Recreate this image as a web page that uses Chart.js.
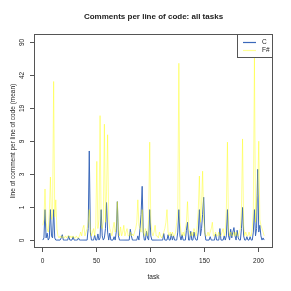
<!DOCTYPE html>
<html>
<head>
<meta charset="utf-8">
<script src="https://cdn.jsdelivr.net/npm/chart.js@4.4.1/dist/chart.umd.min.js"></script>
<style>
  html, body { margin: 0; padding: 0; background: #fff; }
</style>
</head>
<body>
<canvas id="chart" width="291" height="291"></canvas>
<script>
// series names + colours
const seriesNames = ['C', 'F#'];
const seriesColors = ['rgb(58, 104, 186)', 'rgba(255, 255, 0, 0.42)'];

// mean comment lines per line of code, task 1..206
const cValues = [
  0, 0.05, 1.0, 0.05, 0.17, 0, 0.05, 1.0, 0.1, 0.05,
  1.0, 0.05, 0, 0, 0, 0, 0, 0.05, 0.13, 0,
  0, 0, 0, 0, 0.1, 0, 0, 0, 0.08, 0,
  0, 0, 0, 0.05, 0, 0, 0, 0, 0, 0,
  0, 0, 0.3, 6.6, 0.2, 0, 0, 0, 0.12, 0,
  0, 0.15, 0, 0.05, 1.0, 0.1, 0, 0.05, 0.3, 1.35,
  0.2, 0, 0.17, 0, 0, 0, 0.08, 0, 0.2, 1.4,
  0.1, 0, 0, 0, 0, 0, 0, 0, 0, 0,
  0, 0.28, 0.1, 0, 0, 0, 0, 0, 0.1, 0,
  0.3, 0.8, 2.4, 0.2, 0, 0, 0.22, 0.05, 0, 1.0,
  0.1, 0, 0, 0, 0, 0, 0, 0, 0, 0,
  0, 0, 0.16, 0, 0, 0, 0.13, 0, 0, 0.15,
  0, 0.1, 0, 0, 0, 0.2, 1.0, 0.1, 0, 0.13,
  0, 0, 0, 0.25, 0.5, 0, 0, 0.22, 0, 0,
  0.2, 0.05, 0, 0, 0.2, 1.0, 0.1, 0.3, 0.8, 1.65,
  0.2, 0, 0, 0, 0, 0.08, 0, 0, 0, 0,
  0.15, 0, 0, 0, 0.3, 0, 0, 0, 0.1, 0,
  0.1, 1.0, 0.1, 0, 0.28, 0.05, 0.2, 0.33, 0.1, 0,
  0.25, 0.05, 0, 0, 0.3, 1.1, 0.1, 0, 0, 0.08,
  0, 0, 0.08, 0, 0, 0.2, 1.0, 0.1, 0.3, 4.0,
  0.2, 0.4, 0.1, 0, 0.05, 0
];
const fsValues = [
  0.4, 0.6, 2.2, 0.5, 0.3, 0.2, 0.9, 3.2, 0.6, 0.8,
  36, 0.7, 1.5, 0.3, 0.1, 0.05, 0.1, 0.05, 0.1, 0.05,
  0.05, 0.1, 0.05, 0.1, 0.1, 0.05, 0.1, 0.05, 0.1, 0.05,
  0.05, 0.1, 0.05, 0.05, 0.1, 0.2, 0.1, 0.3, 0.4, 0.1,
  0.2, 0.3, 0.5, 1.0, 0.3, 0.1, 0.2, 0.3, 0.1, 0.4,
  5, 0.3, 0.6, 16, 0.4, 0.3, 0.5, 13, 0.5, 2,
  10, 0.6, 0.3, 0.2, 0.1, 0.3, 0.5, 0.2, 0.3, 1.4,
  0.3, 0.1, 0.35, 0.1, 0.2, 0.4, 0.1, 0.2, 0.3, 0.1,
  0.1, 0.2, 0.1, 0.15, 0.1, 0.2, 0.3, 0.5, 1.5, 0.4,
  0.3, 0.2, 1.0, 0.2, 0.1, 0.3, 0.2, 0.1, 0.6, 8.3,
  0.5, 0.2, 0.1, 0.2, 0.4, 0.1, 0.1, 0.05, 0.2, 0.1,
  0.05, 0.1, 0.2, 0.3, 0.5, 1.0, 0.2, 0.1, 0.2, 0.1,
  0.2, 0.1, 0.1, 0.2, 0.5, 1.0, 55, 0.5, 0.2, 0.1,
  0.2, 0.1, 0.3, 0.5, 1.4, 0.3, 0.2, 0.1, 0.2, 0.1,
  0.3, 0.2, 0.1, 0.4, 1.0, 3.3, 0.5, 1.2, 3.8, 0.6,
  0.2, 0.1, 0.1, 0.2, 0.1, 0.2, 0.3, 0.5, 0.1, 0.1,
  0.2, 0.1, 0.1, 0.2, 0.1, 0.1, 0.2, 0.3, 0.1, 0.2,
  1.0, 8.3, 0.3, 0.1, 0.2, 0.1, 0.1, 0.2, 0.1, 0.2,
  0.1, 0.1, 0.2, 0.3, 1.0, 9, 0.4, 0.1, 0.2, 0.1,
  0.1, 0.2, 0.1, 0.1, 0.3, 1.0, 62, 0.5, 1.5, 1.8,
  8.5, 0.6, 0.4, 0.3, 0.2, 0.1
];

// axis ticks
const xTicks = [0, 50, 100, 150, 200];
const yTickLabels = ['0', '1', '3', '9', '19', '42', '90'];

const FONT = '"Liberation Sans", Arial, Helvetica, sans-serif';

// y is plotted as log(v + 1), ticks evenly spaced up to the top label
const toAxis = v => Math.log(v + 1);
const nTasks = cValues.length;
const yTop = toAxis(Number(yTickLabels[yTickLabels.length - 1]));
const yStep = yTop / (yTickLabels.length - 1);

// R-style 4% padding on both axes
const xPad = 0.04 * (nTasks - 1);
const yPad = 0.04 * yTop;

const toPoints = arr => arr.map((v, i) => ({ x: i + 1, y: toAxis(v) }));

// box, ticks, titles and legend drawn R style
const rFrame = {
  id: 'rFrame',
  afterDatasetsDraw(chart) {
    const { ctx, chartArea: a, scales: { x, y } } = chart;
    ctx.save();
    ctx.strokeStyle = '#555';
    ctx.lineWidth = 1;
    ctx.strokeRect(a.left + 0.5, a.top + 0.5, a.right - a.left - 1, a.bottom - a.top - 1);

    ctx.fillStyle = '#222';
    ctx.font = '6.5px ' + FONT;
    ctx.textAlign = 'center';
    ctx.textBaseline = 'middle';

    // x axis
    xTicks.forEach(v => {
      const px = Math.round(x.getPixelForValue(v)) + 0.5;
      ctx.beginPath();
      ctx.moveTo(px, a.bottom);
      ctx.lineTo(px, a.bottom + 4);
      ctx.stroke();
      ctx.fillText(String(v), px, 261);
    });

    // y axis (labels read upwards)
    yTickLabels.forEach((lab, k) => {
      const py = Math.round(y.getPixelForValue(k * yStep)) + 0.5;
      ctx.beginPath();
      ctx.moveTo(a.left - 4, py);
      ctx.lineTo(a.left, py);
      ctx.stroke();
      ctx.save();
      ctx.translate(22, py);
      ctx.rotate(-Math.PI / 2);
      ctx.fillText(lab, 0, 0);
      ctx.restore();
    });

    const midX = (a.left + a.right) / 2;
    const midY = (a.top + a.bottom) / 2;
    ctx.fillText('task', midX, 277);
    ctx.save();
    ctx.translate(13, midY);
    ctx.rotate(-Math.PI / 2);
    ctx.fillText('line of comment per line of code (mean)', 0, 0);
    ctx.restore();

    ctx.font = 'bold 8px ' + FONT;
    ctx.fillText('Comments per line of code: all tasks', midX, 17);

    // legend, top right inside the plot
    const lw = 36, lh = 24;
    const lx = a.right - lw, ly = a.top;
    ctx.fillStyle = '#fff';
    ctx.fillRect(lx, ly, lw, lh);
    ctx.strokeStyle = '#555';
    ctx.strokeRect(lx + 0.5, ly + 0.5, lw - 1, lh - 1);
    ctx.font = '6.5px ' + FONT;
    ctx.textAlign = 'left';
    seriesNames.forEach((name, i) => {
      const yy = ly + 8.5 + i * 8;
      ctx.strokeStyle = seriesColors[i];
      ctx.lineWidth = 1.2;
      ctx.beginPath();
      ctx.moveTo(lx + 6, yy);
      ctx.lineTo(lx + 19, yy);
      ctx.stroke();
      ctx.fillStyle = '#222';
      ctx.fillText(name, lx + 25, yy);
    });
    ctx.restore();
  }
};

new Chart(document.getElementById('chart'), {
  type: 'line',
  data: {
    datasets: [
      {
        label: seriesNames[0],
        data: toPoints(cValues),
        borderColor: seriesColors[0],
        borderWidth: 1,
        borderJoinStyle: 'round',
        pointRadius: 0,
        tension: 0,
        order: 2
      },
      {
        label: seriesNames[1],
        data: toPoints(fsValues),
        borderColor: seriesColors[1],
        borderWidth: 1,
        borderJoinStyle: 'round',
        pointRadius: 0,
        tension: 0,
        order: 1
      }
    ]
  },
  options: {
    responsive: false,
    animation: false,
    layout: { padding: { left: 34, right: 18, top: 34, bottom: 43 } },
    scales: {
      x: { type: 'linear', display: false, min: 1 - xPad, max: nTasks + xPad },
      y: { type: 'linear', display: false, min: -yPad, max: yTop + yPad }
    },
    plugins: {
      legend: { display: false },
      tooltip: { enabled: false }
    }
  },
  plugins: [rFrame]
});
</script>
</body>
</html>
